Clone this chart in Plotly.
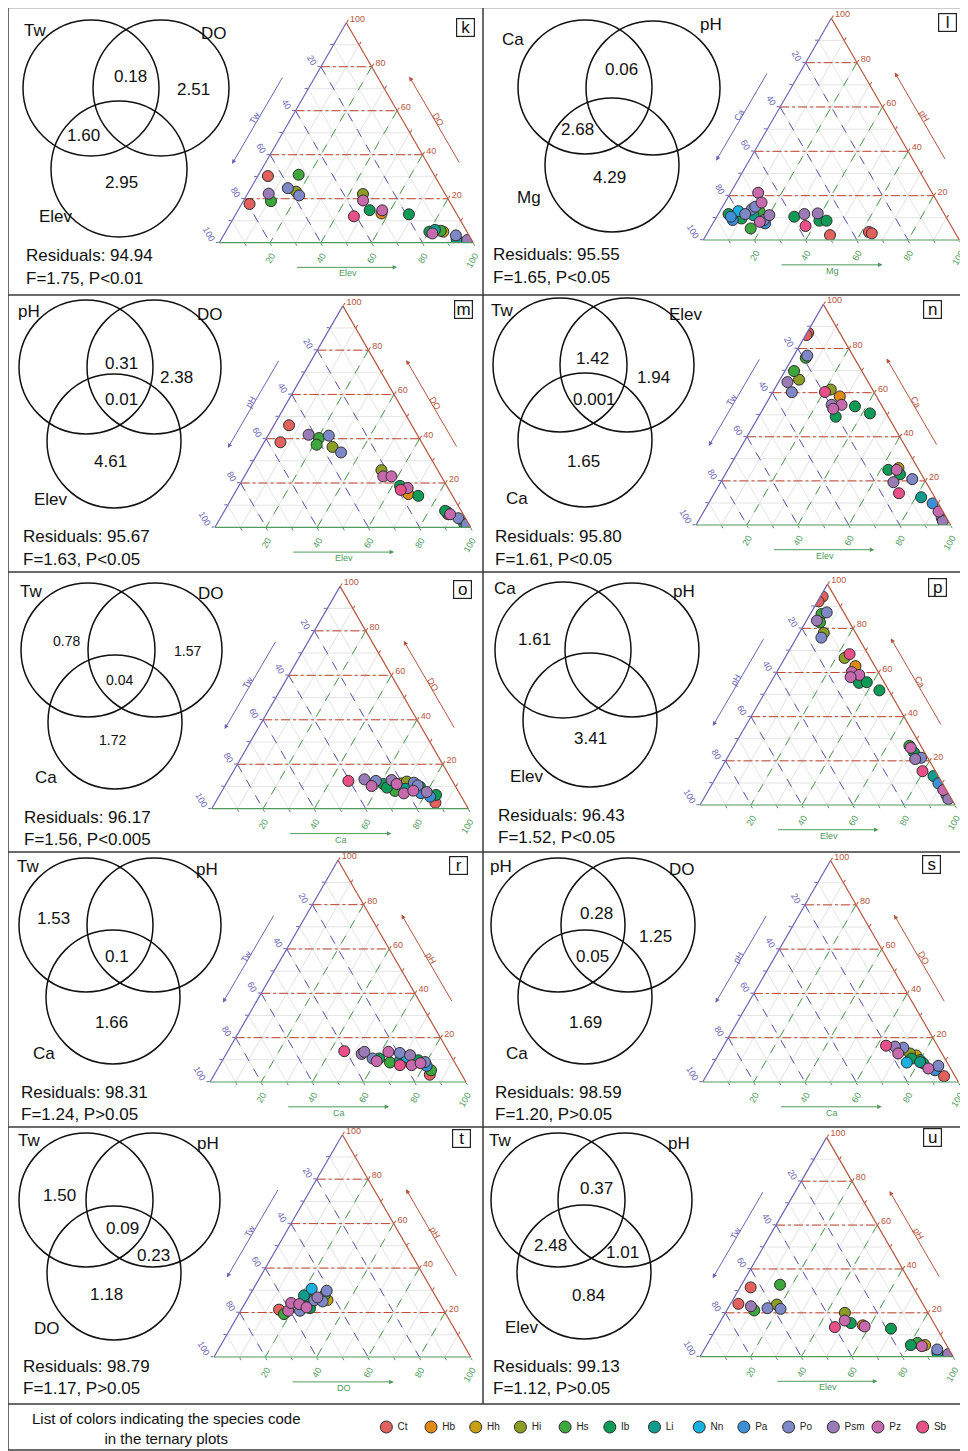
import math
import plotly.graph_objects as go

# page is rendered with an 8px body margin -> figure is 960x1443 placed at (8, 8)
PAGE_OFFSET = 8
FIG_W, FIG_H = 960, 1443
FONT = "Liberation Sans, Arial, sans-serif"

# ---------------- species / colours ----------------
SPECIES = ["Ct", "Hb", "Hh", "Hi", "Hs", "Ib", "Li", "Nn", "Pa", "Po", "Psm", "Pz", "Sb"]
SPECIES_COLORS = ["#e2615d", "#de8a14", "#c8a112", "#8c9d25", "#3da63c", "#0f9b56", "#0e9d8d",
                  "#1bb1df", "#3d8fd6", "#7e88c6", "#9b7bb5", "#c66aad", "#e94f88"]

# ---------------- panel data (top %, bottom %, third = 100 - top - bottom) ----------------
# k : top DO, left Tw, bottom Elev
K_AXES = ["DO", "Tw", "Elev"]
K_SPECIES = ["Ct", "Ct", "Hs", "Hs", "Psm", "Po", "Hi", "Po", "Hi", "Pz", "Ib", "Sb", "Hb", "Pz", "Ib",
             "Ib", "Li", "Pz", "Hs", "Hh", "Po", "Li", "Psm", "Po"]
K_TOP = [30.3, 17.6, 30.9, 18.9, 22.3, 24.8, 23.2, 21.5, 22.1, 19.2, 14.8, 12.0, 13.3, 14.7, 12.9,
         5.0, 5.8, 4.2, 5.4, 5.0, 3.3, 1.5, 1.2, 0.8]
K_BOTTOM = [4.0, 3.1, 15.8, 10.9, 8.3, 14.6, 18.6, 20.7, 45.5, 47.0, 51.8, 47.0, 57.2, 56.8, 68.2,
            80.2, 82.0, 81.8, 84.5, 85.7, 91.5, 92.7, 97.0, 98.3]
K_VENN_SETS = ["Tw", "DO", "Elev"]
K_VENN_VALUES = ["0.18", "2.51", "1.60", "2.95"]
K_STATS = ["Residuals: 94.94", "F=1.75, P<0.01"]

# l : top pH, left Ca, bottom Mg
L_AXES = ["pH", "Ca", "Mg"]
L_SPECIES = ["Pz", "Pz", "Ib", "Nn", "Pa", "Ib", "Po", "Po", "Li", "Hs", "Hi", "Psm", "Pa", "Po", "Hs",
             "Pz", "Pa", "Po", "Ib", "Psm", "Sb", "Psm", "Ib", "Ib", "Ct", "Ct", "Ct"]
L_TOP = [21.3, 16.9, 11.7, 13.0, 9.0, 9.7, 13.8, 11.7, 11.2, 12.7, 9.7, 11.2, 7.5, 9.0, 5.2,
         8.2, 10.5, 15.0, 10.5, 11.7, 6.3, 12.0, 8.7, 8.7, 2.2, 3.6, 3.0]
L_BOTTOM = [10.8, 14.3, 4.0, 7.2, 7.0, 10.1, 12.0, 10.5, 13.9, 15.7, 17.5, 20.2, 20.4, 19.2, 15.9,
            18.0, 5.5, 12.8, 30.3, 33.6, 36.8, 38.7, 41.0, 43.8, 48.4, 62.9, 64.3]
L_VENN_SETS = ["Ca", "pH", "Mg"]
L_VENN_VALUES = ["0.06", "2.68", "4.29"]
L_STATS = ["Residuals: 95.55", "F=1.65, P<0.05"]

# m : top DO, left pH, bottom Elev
M_AXES = ["DO", "pH", "Elev"]
M_SPECIES = ["Ct", "Ct", "Psm", "Hs", "Hs", "Po", "Hi", "Po", "Hi", "Pz", "Pz", "Ib", "Sb", "Pz", "Hb",
             "Ib", "Ib", "Hs", "Ct", "Pz", "Po", "Li", "Po"]
M_TOP = [46.1, 38.4, 41.8, 40.3, 37.3, 41.4, 36.3, 33.8, 25.8, 23.0, 23.0, 18.7, 16.9, 17.7, 15.0,
         14.2, 7.4, 6.8, 5.9, 5.9, 4.1, 1.8, 1.4]
M_BOTTOM = [5.9, 6.4, 15.7, 20.5, 21.1, 23.8, 27.8, 32.4, 52.2, 54.3, 57.5, 63.0, 64.2, 66.5, 68.1,
            72.4, 86.3, 87.5, 88.2, 89.0, 93.1, 96.5, 97.7]
M_VENN_SETS = ["pH", "DO", "Elev"]
M_VENN_VALUES = ["0.31", "2.38", "0.01", "4.61"]
M_STATS = ["Residuals: 95.67", "F=1.63, P<0.05"]

# n : top Ca, left Tw, bottom Elev
N_AXES = ["Ca", "Tw", "Elev"]
N_SPECIES = ["Ct", "Ct", "Po", "Hs", "Hs", "Psm", "Hi", "Po", "Sb", "Hi", "Hb", "Psm", "Pz", "Pz", "Ib",
             "Ib", "Ib", "Ib", "Hh", "Pz", "Ib", "Psm", "Po", "Sb", "Li", "Pa", "Pz", "Po", "Psm"]
N_TOP = [87.1, 86.1, 76.8, 75.8, 69.8, 64.8, 65.9, 60.2, 60.3, 61.4, 58.3, 54.5, 54.5, 52.7, 49.1,
         53.8, 50.6, 25.0, 25.8, 25.0, 23.0, 19.4, 20.8, 14.4, 12.6, 9.8, 6.1, 3.3, 1.8]
N_BOTTOM = [0.5, 0.3, 5.3, 5.2, 3.6, 3.5, 7.5, 7.5, 20.5, 22.2, 27.3, 26.0, 29.9, 27.5, 30.3,
            35.5, 43.0, 63.0, 66.6, 66.3, 68.6, 67.8, 74.5, 72.5, 82.1, 88.0, 92.2, 94.8, 96.0]
N_VENN_SETS = ["Tw", "Elev", "Ca"]
N_VENN_VALUES = ["1.42", "1.94", "0.001", "1.65"]
N_STATS = ["Residuals: 95.80", "F=1.61, P<0.05"]

# o : top DO, left Tw, bottom Ca
O_AXES = ["DO", "Tw", "Ca"]
O_SPECIES = ["Sb", "Psm", "Po", "Pz", "Ib", "Ib", "Psm", "Pz", "Hs", "Hh", "Hi", "Li", "Pz", "Po", "Pz",
             "Ib", "Po", "Psm", "Pa", "Ib", "Pa", "Ct"]
O_TOP = [12.5, 13.2, 12.5, 10.2, 11.1, 9.5, 12.9, 11.1, 8.0, 11.4, 12.2, 9.0, 6.9, 11.7, 8.1,
         9.9, 10.5, 7.5, 7.0, 6.2, 5.4, 2.7]
O_BOTTOM = [47.0, 52.9, 57.7, 57.2, 61.3, 63.5, 63.6, 66.5, 67.4, 68.3, 69.9, 70.8, 71.4, 72.9, 74.5,
            76.2, 75.0, 80.0, 78.0, 84.3, 82.4, 85.8]
O_VENN_SETS = ["Tw", "DO", "Ca"]
O_VENN_VALUES = ["0.78", "1.57", "0.04", "1.72"]
O_STATS = ["Residuals: 96.17", "F=1.56, P<0.005"]

# p : top Ca, left pH, bottom Elev
P_AXES = ["Ca", "pH", "Elev"]
P_SPECIES = ["Ct", "Ct", "Po", "Hs", "Psm", "Hs", "Hi", "Po", "Sb", "Hi", "Hb", "Pz", "Pz", "Pz", "Ib",
             "Ib", "Ib", "Hs", "Pz", "Ib", "Psm", "Po", "Sb", "Li", "Pa", "Pz", "Po", "Psm"]
P_TOP = [94.4, 92.2, 87.2, 86.5, 83.5, 82.7, 77.9, 75.8, 68.3, 66.6, 62.9, 60.2, 58.9, 57.9, 55.3,
         55.6, 51.9, 26.8, 25.9, 23.8, 20.8, 21.4, 15.3, 13.1, 9.8, 6.8, 4.5, 2.7]
P_BOTTOM = [0.9, 0.4, 6.1, 4.4, 4.1, 5.7, 9.6, 9.7, 24.5, 23.4, 29.5, 29.4, 33.0, 30.1, 34.7,
            37.6, 44.4, 68.7, 69.7, 72.0, 74.0, 76.0, 79.6, 85.0, 88.6, 92.0, 94.4, 96.0]
P_VENN_SETS = ["Ca", "pH", "Elev"]
P_VENN_VALUES = ["1.61", "3.41"]
P_STATS = ["Residuals: 96.43", "F=1.52, P<0.05"]

# r : top pH, left Tw, bottom Ca
R_AXES = ["pH", "Tw", "Ca"]
R_SPECIES = ["Sb", "Psm", "Psm", "Po", "Pz", "Ib", "Pz", "Hs", "Po", "Li", "Sb", "Hi", "Nn", "Psm", "Pz",
             "Ib", "Pz", "Po", "Pa", "Hs", "Ct"]
R_TOP = [13.9, 12.7, 13.6, 10.6, 9.4, 10.6, 13.6, 8.8, 13.1, 9.8, 7.6, 9.8, 11.3, 12.1, 7.6,
         9.8, 8.5, 9.0, 7.3, 5.3, 3.3]
R_BOTTOM = [45.5, 52.9, 53.5, 58.2, 60.4, 60.8, 62.9, 65.9, 67.6, 69.3, 70.4, 71.3, 71.1, 72.1, 75.0,
            76.5, 78.0, 79.5, 81.0, 83.7, 84.2]
R_VENN_SETS = ["Tw", "pH", "Ca"]
R_VENN_VALUES = ["1.53", "0.1", "1.66"]
R_STATS = ["Residuals: 98.31", "F=1.24, P>0.05"]

# s : top DO, left pH, bottom Ca
S_AXES = ["DO", "pH", "Ca"]
S_SPECIES = ["Sb", "Psm", "Po", "Pz", "Hi", "Nn", "Ib", "Hh", "Hs", "Li", "Ib", "Po", "Pz", "Pa", "Ct"]
S_TOP = [16.4, 16.0, 15.5, 12.9, 12.9, 8.8, 10.6, 12.0, 9.9, 9.0, 8.4, 7.3, 6.1, 5.3, 2.6]
S_BOTTOM = [63.5, 67.2, 70.7, 70.0, 74.6, 75.4, 76.4, 77.5, 80.0, 80.5, 82.1, 88.5, 85.2, 88.2, 93.1]
S_VENN_SETS = ["pH", "DO", "Ca"]
S_VENN_VALUES = ["0.28", "1.25", "0.05", "1.69"]
S_STATS = ["Residuals: 98.59", "F=1.20, P>0.05"]

# t : top pH, left Tw, bottom DO
T_AXES = ["pH", "Tw", "DO"]
T_SPECIES = ["Ct", "Hs", "Pz", "Pz", "Pz", "Po", "Li", "Ib", "Nn", "Pz", "Ib", "Po", "Ib", "Psm", "Po",
             "Hh", "Hs", "Po"]
T_TOP = [21.3, 19.3, 20.8, 24.3, 23.8, 20.8, 27.7, 27.3, 30.7, 22.3, 22.0, 25.5, 26.4, 26.8, 25.0,
         25.6, 28.0, 29.8]
T_BOTTOM = [14.7, 17.6, 18.5, 17.9, 21.3, 23.1, 21.2, 22.5, 22.7, 24.9, 26.4, 26.3, 26.8, 26.9, 29.8,
            31.4, 29.2, 29.0]
T_VENN_SETS = ["Tw", "pH", "DO"]
T_VENN_VALUES = ["1.50", "0.09", "0.23", "1.18"]
T_STATS = ["Residuals: 98.79", "F=1.17, P>0.05"]

# u : top pH, left Tw, bottom Elev
U_AXES = ["pH", "Tw", "Elev"]
U_SPECIES = ["Ct", "Hs", "Ct", "Psm", "Hs", "Po", "Hi", "Po", "Hi", "Pz", "Ib", "Sb", "Hb", "Pz", "Ib",
             "Ib", "Hs", "Hh", "Pz", "Po", "Li", "Psm", "Po"]
U_TOP = [31.6, 32.8, 24.1, 23.0, 21.1, 22.1, 23.8, 21.8, 20.0, 16.5, 15.3, 13.5, 14.3, 13.8, 12.8,
         5.3, 6.3, 5.3, 4.8, 3.3, 1.8, 1.2, 0.75]
U_BOTTOM = [4.2, 15.2, 3.1, 8.6, 10.9, 15.6, 18.4, 20.9, 47.2, 48.9, 51.9, 46.5, 57.1, 58.1, 69.0,
            80.6, 82.7, 86.2, 85.2, 92.0, 92.8, 97.4, 98.9]
U_VENN_SETS = ["Tw", "pH", "Elev"]
U_VENN_VALUES = ["0.37", "2.48", "1.01", "0.84"]
U_STATS = ["Residuals: 99.13", "F=1.12, P>0.05"]

LEGEND_TITLE = "List of colors indicating the species code<br>in the ternary plots"

PANELS = [
    ("k", K_AXES, K_SPECIES, K_TOP, K_BOTTOM, K_VENN_SETS, K_VENN_VALUES, K_STATS),
    ("l", L_AXES, L_SPECIES, L_TOP, L_BOTTOM, L_VENN_SETS, L_VENN_VALUES, L_STATS),
    ("m", M_AXES, M_SPECIES, M_TOP, M_BOTTOM, M_VENN_SETS, M_VENN_VALUES, M_STATS),
    ("n", N_AXES, N_SPECIES, N_TOP, N_BOTTOM, N_VENN_SETS, N_VENN_VALUES, N_STATS),
    ("o", O_AXES, O_SPECIES, O_TOP, O_BOTTOM, O_VENN_SETS, O_VENN_VALUES, O_STATS),
    ("p", P_AXES, P_SPECIES, P_TOP, P_BOTTOM, P_VENN_SETS, P_VENN_VALUES, P_STATS),
    ("r", R_AXES, R_SPECIES, R_TOP, R_BOTTOM, R_VENN_SETS, R_VENN_VALUES, R_STATS),
    ("s", S_AXES, S_SPECIES, S_TOP, S_BOTTOM, S_VENN_SETS, S_VENN_VALUES, S_STATS),
    ("t", T_AXES, T_SPECIES, T_TOP, T_BOTTOM, T_VENN_SETS, T_VENN_VALUES, T_STATS),
    ("u", U_AXES, U_SPECIES, U_TOP, U_BOTTOM, U_VENN_SETS, U_VENN_VALUES, U_STATS),
]

# ---------------- layout geometry (page pixels) ----------------
GEOM = {
    "k": dict(tri=(219.3, 242.7, 254.0), circles=[(91, 88, 68), (161, 88, 68), (119, 169, 68)],
              sets=[(35, 31), (214, 33), (56, 217)], vals=[(131, 76), (193, 89), (83, 135), (121, 182)],
              vsize=17, stats=(24, 255, 278), letter=(465, 27)),
    "l": dict(tri=(703.3, 240.0, 256.0), circles=[(585, 87, 67), (653, 88, 67), (612, 165, 67)],
              sets=[(513, 39), (711, 25), (529, 198)], vals=[(621, 69), (577, 129), (609, 177)],
              vsize=17, stats=(491, 254, 277), letter=(947, 23)),
    "m": dict(tri=(215.0, 527.3, 255.7), circles=[(86, 367, 67), (154, 367, 67), (114, 441, 67)],
              sets=[(29, 312), (210, 314), (51, 499)], vals=[(121, 364), (176, 378), (121, 399), (110, 461)],
              vsize=17, stats=(21, 537, 559), letter=(463, 309)),
    "n": dict(tri=(696.0, 525.0, 254.7), circles=[(560, 365, 67), (627, 365, 67), (585, 440, 67)],
              sets=[(502, 311), (686, 314), (517, 498)], vals=[(592, 358), (653, 378), (594, 400), (583, 461)],
              vsize=17, stats=(493, 537, 559), letter=(932, 309)),
    "o": dict(tri=(211.7, 808.7, 256.7), circles=[(88, 650, 67), (155, 650, 67), (115, 722, 67)],
              sets=[(31, 591), (211, 593), (46, 778)], vals=[(66, 641), (187, 651), (119, 680), (112, 740)],
              vsize=14, stats=(22, 817, 839), letter=(462, 589)),
    "p": dict(tri=(700.0, 805.0, 255.0), circles=[(563, 650, 68), (632, 650, 67), (590, 720, 67)],
              sets=[(505, 588), (684, 591), (527, 776)], vals=[(534, 640), (590, 738)],
              vsize=17, stats=(496, 815, 837), letter=(937, 587)),
    "r": dict(tri=(210.0, 1082.0, 256.0), circles=[(86, 925, 67), (154, 925, 67), (113, 997, 67)],
              sets=[(28, 866), (207, 869), (44, 1053)], vals=[(53, 918), (117, 956), (111, 1023)],
              vsize=17, stats=(19, 1092, 1114), letter=(458, 865)),
    "s": dict(tri=(702.7, 1082.0, 255.7), circles=[(558, 925, 67), (628, 925, 67), (585, 997, 67)],
              sets=[(501, 866), (682, 869), (517, 1053)], vals=[(596, 913), (655, 936), (592, 956), (585, 1023)],
              vsize=17, stats=(493, 1092, 1114), letter=(931, 864)),
    "t": dict(tri=(214.0, 1357.0, 256.7), circles=[(86, 1200, 67), (153, 1200, 67), (114, 1273, 67)],
              sets=[(29, 1140), (208, 1143), (47, 1328)], vals=[(59, 1195), (122, 1228), (153, 1255), (106, 1294)],
              vsize=17, stats=(21, 1366, 1388), letter=(461, 1138)),
    "u": dict(tri=(700.0, 1356.7, 253.3), circles=[(558, 1200, 67), (625, 1200, 67), (584, 1272, 67)],
              sets=[(500, 1140), (679, 1143), (522, 1327)], vals=[(596, 1188), (550, 1245), (622, 1252), (588, 1295)],
              vsize=17, stats=(491, 1366, 1388), letter=(932, 1137)),
}
KEY_X = (364, 945)      # page x-extent of the species key axis
KEY_Y = (1417, 1437)    # page y-extent of the species key axis

BLUE = "#6a64b4"
GREEN = "#4f9a5c"
RED = "#b5553f"
RED_GRID = "#c0452e"
BLUE_GRID = "#5a55aa"
GREEN_GRID = "#4c9a4c"
LIGHT_GRID = "#e4e4e4"
OUTLINE = "#2f2f2f"
FRAME = "#3a3a3a"
GRID_VALUES = [20, 40, 60, 80]
TICK_VALUES = list(range(0, 100, 10))
MARKER_SIZE = 11


def P(x, y):
    """page pixel -> paper coordinates"""
    return (x - PAGE_OFFSET) / FIG_W, 1 - (y - PAGE_OFFSET) / FIG_H


def tick_text(vals):
    return [str(100 - v) if (100 - v) % 20 == 0 else "" for v in vals]


def text_ann(x, y, text, size, color="#111111", xanchor="center", angle=0):
    xx, yy = P(x, y)
    return dict(x=xx, y=yy, xref="paper", yref="paper", text=text, showarrow=False,
                xanchor=xanchor, yanchor="middle", textangle=angle,
                font=dict(size=size, color=color, family=FONT))


fig = go.Figure()
shapes = []
annotations = []
layout_extra = {}

for idx, (letter, axes, sp_list, top, bot, sets, vals, stats) in enumerate(PANELS):
    sub = "ternary" if idx == 0 else f"ternary{idx + 1}"
    g = GEOM[letter]
    L, B, w = g["tri"]
    h = w * math.sqrt(3) / 2

    # coloured reference grid lines
    for kind, col, dash in (("a", RED_GRID, "dashdot"), ("b", BLUE_GRID, "dash"), ("c", GREEN_GRID, "dash")):
        la, lb, lc = [], [], []
        for v in GRID_VALUES:
            if kind == "a":
                la += [v, v, None]; lb += [100 - v, 0, None]; lc += [0, 100 - v, None]
            elif kind == "b":
                lb += [v, v, None]; la += [100 - v, 0, None]; lc += [0, 100 - v, None]
            else:
                lc += [v, v, None]; la += [100 - v, 0, None]; lb += [0, 100 - v, None]
        fig.add_trace(go.Scatterternary(a=la, b=lb, c=lc, mode="lines", subplot=sub,
                                        line=dict(color=col, width=1, dash=dash),
                                        showlegend=False, hoverinfo="skip", connectgaps=False))

    # points, one trace per species
    for s_name, col in zip(SPECIES, SPECIES_COLORS):
        ids = [i for i, s in enumerate(sp_list) if s == s_name]
        if not ids:
            continue
        a = [top[i] for i in ids]
        c = [bot[i] for i in ids]
        b = [100 - x - y for x, y in zip(a, c)]
        fig.add_trace(go.Scatterternary(
            a=a, b=b, c=c, mode="markers", name=s_name, legendgroup=s_name, subplot=sub,
            marker=dict(size=MARKER_SIZE, color=col, line=dict(color=OUTLINE, width=1)),
            showlegend=False, hovertemplate=f"{s_name}<extra></extra>"))

    def ax_style(color, angle):
        return dict(title=dict(text=""), tickmode="array", tickvals=TICK_VALUES,
                    ticktext=tick_text(TICK_VALUES),
                    tickfont=dict(size=9, color=color, family=FONT), tickangle=angle,
                    linecolor=color, linewidth=1.2, gridcolor=LIGHT_GRID, gridwidth=1,
                    showgrid=True, ticks="outside", ticklen=3, tickcolor=color, showline=True)

    x0, y0 = P(L, B)
    x1, y1 = P(L + w, B - h)
    layout_extra[sub] = dict(sum=100, domain=dict(x=[x0, x1], y=[y0, y1]),
                             bgcolor="rgba(0,0,0,0)",
                             aaxis=ax_style(BLUE, 60), baxis=ax_style(GREEN, -60),
                             caxis=ax_style(RED, 0))

    # axis-name arrows and labels
    top_name, left_name, bottom_name = axes
    arrows = [
        ((L + 0.05 * w, B - 0.31 * w), (L + 0.252 * w, B - 0.656 * w), BLUE),
        ((L + 0.748 * w, B - 0.654 * w), (L + 0.948 * w, B - 0.31 * w), RED),
        ((L + 0.70 * w, B + 0.097 * w), (L + 0.30 * w, B + 0.097 * w), GREEN),
    ]
    for (hx, hy), (tx, ty), col in arrows:
        xx, yy = P(hx, hy)
        annotations.append(dict(x=xx, y=yy, xref="paper", yref="paper", text="", showarrow=True,
                                ax=tx - hx, ay=ty - hy, arrowhead=2, arrowsize=0.9, arrowwidth=1,
                                arrowcolor=col))
    annotations.append(text_ann(L + 0.14 * w, B - 0.49 * w, left_name, 9, BLUE, angle=-60))
    annotations.append(text_ann(L + 0.862 * w, B - 0.483 * w, top_name, 9, RED, angle=60))
    annotations.append(text_ann(L + 0.505 * w, B + 0.12 * w, bottom_name, 9, GREEN))

    # Venn circles and texts
    for (cx, cy, r) in g["circles"]:
        ax0, ay0 = P(cx - r, cy + r)
        ax1, ay1 = P(cx + r, cy - r)
        shapes.append(dict(type="circle", xref="paper", yref="paper", x0=ax0, y0=ay0, x1=ax1, y1=ay1,
                           line=dict(color="#111111", width=1.5)))
    for name, (sx, sy) in zip(sets, g["sets"]):
        annotations.append(text_ann(sx, sy, name, 17))
    for val, (vx, vy) in zip(vals, g["vals"]):
        annotations.append(text_ann(vx, vy, val, g["vsize"]))
    stx, sty1, sty2 = g["stats"]
    for txt, yy_px in zip(stats, (sty1, sty2)):
        annotations.append(text_ann(stx, yy_px, txt, 17, xanchor="left"))
    lx, ly = P(*g["letter"])
    annotations.append(dict(x=lx, y=ly, xref="paper", yref="paper", text=letter, showarrow=False,
                            xanchor="center", yanchor="middle",
                            font=dict(size=17, color="#111111", family=FONT),
                            bordercolor="#222222", borderwidth=1.2, borderpad=0, width=17, height=17))

# species colour key (cartesian subplot, categorical x axis)
fig.add_trace(go.Scatter(
    x=SPECIES, y=[0] * len(SPECIES), mode="markers+text",
    text=["\u00a0" + s for s in SPECIES],
    textposition="middle right", textfont=dict(size=10, color="#222222", family=FONT),
    marker=dict(size=12, color=SPECIES_COLORS, line=dict(color=OUTLINE, width=1)),
    showlegend=False, hoverinfo="skip", cliponaxis=False, xaxis="x", yaxis="y"))


def line(xa, ya, xb, yb):
    p0 = P(xa, ya)
    p1 = P(xb, yb)
    shapes.append(dict(type="line", xref="paper", yref="paper", x0=p0[0], y0=p0[1], x1=p1[0], y1=p1[1],
                       line=dict(color=FRAME, width=1.5)))


line(8, 7.5, 966.5, 7.5)
line(8, 1450, 966.5, 1450)
line(8, 7.5, 8, 1450)
line(966.5, 7.5, 966.5, 1450)
for yy in (295, 572, 852, 1127, 1404):
    line(8, yy, 966.5, yy)
line(483, 7.5, 483, 1404)

annotations.append(text_ann(166, 1428, LEGEND_TITLE, 15))

kx0, _ = P(KEY_X[0], 0)
kx1, _ = P(KEY_X[1], 0)
_, ky0 = P(0, KEY_Y[1])
_, ky1 = P(0, KEY_Y[0])

fig.update_layout(
    width=FIG_W, height=FIG_H, margin=dict(l=0, r=0, t=0, b=0),
    paper_bgcolor="white", plot_bgcolor="rgba(0,0,0,0)",
    font=dict(family=FONT, color="#111111"),
    shapes=shapes, annotations=annotations,
    showlegend=False,
    xaxis=dict(domain=[kx0, kx1], visible=False, range=[-0.5, len(SPECIES) - 0.5], fixedrange=True),
    yaxis=dict(domain=[ky0, ky1], visible=False, range=[-1, 1], fixedrange=True),
    **layout_extra,
)

fig.write_html("out.html")
